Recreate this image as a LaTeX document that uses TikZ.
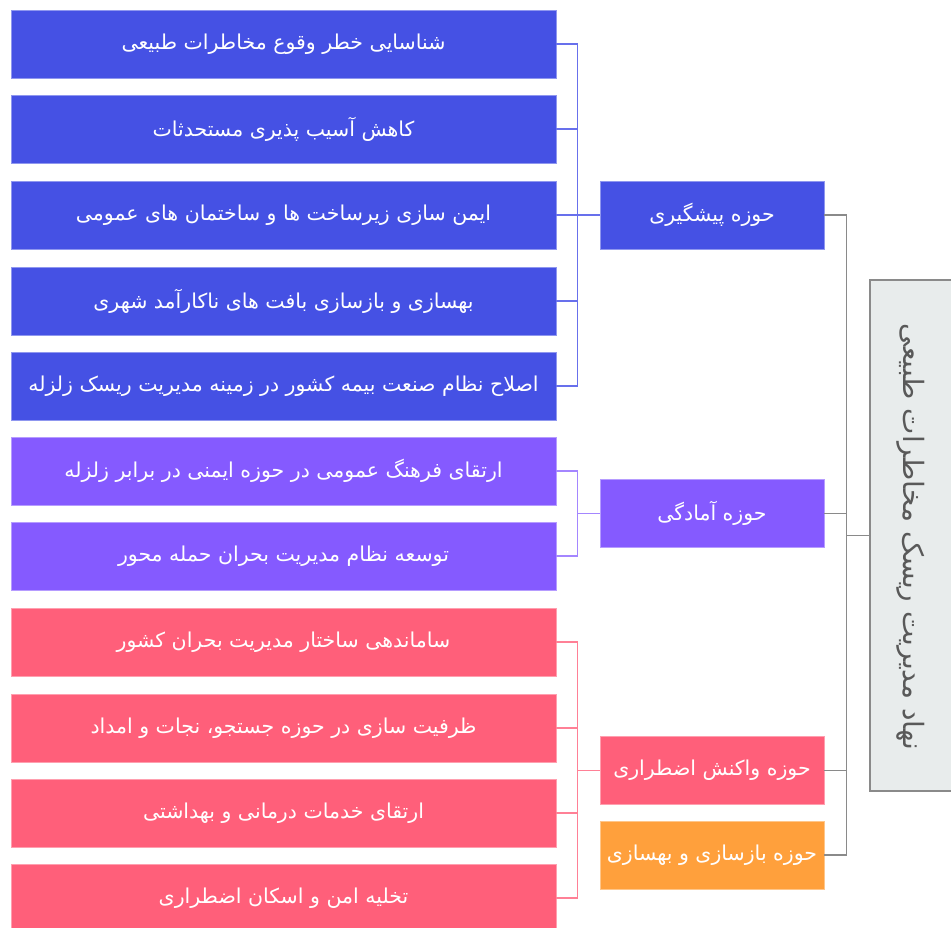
\documentclass[tikz,border=0pt]{standalone}
\usepackage{fontspec}
\newfontfamily\fa[Script=Arabic]{DejaVu Sans}
\TeXXeTstate=1
\definecolor{cblue}{HTML}{4551E4}
\definecolor{cpurple}{HTML}{855AFF}
\definecolor{cpink}{HTML}{FF5F7A}
\definecolor{corange}{HTML}{FFA03C}
\definecolor{croot}{HTML}{E8ECEC}
\definecolor{lblue}{HTML}{6870EC}
\definecolor{lpurple}{HTML}{A486FF}
\definecolor{lpink}{HTML}{FF8096}
\definecolor{lgray}{HTML}{8A8A8A}
\begin{document}
\begin{tikzpicture}[x=1pt,y=-1pt,
  box/.style={rectangle, minimum height=68pt, inner sep=0pt, text=white,
    font=\fa\fontsize{20.5}{24}\selectfont, line width=0.8pt},
  leaf/.style={box, minimum width=545pt},
  mid/.style={box, minimum width=224pt},
  bluebox/.style={fill=cblue, draw=cblue!60!white},
  purplebox/.style={fill=cpurple, draw=cpurple!60!white},
  pinkbox/.style={fill=cpink, draw=cpink!60!white},
  orangebox/.style={fill=corange, draw=corange!60!white},
  conn/.style={line width=1.3pt},
]
\useasboundingbox (0,0) rectangle (951,927);
\fill[white] (0,0) rectangle (951,927);

% root
\node[rectangle, fill=croot, draw=lgray, line width=1.3pt, minimum width=90pt, minimum height=511pt, inner sep=0pt] (root) at (915,535.5) {};
\node[rotate=-90, text=black!65, font=\fa\fontsize{28}{32}\selectfont] (roottxt) at (911,537) {\beginR نهاد مدیریت ریسک مخاطرات طبیعی\endR};

% middle
\node[mid, bluebox] (m1) at (712,215) {\beginR حوزه پیشگیری\endR};
\node[mid, purplebox] (m2) at (712,513.5) {\beginR حوزه آمادگی\endR};
\node[mid, pinkbox] (m3) at (712,770.5) {\beginR حوزه واکنش اضطراری\endR};
\node[mid, orangebox] (m4) at (712,855) {\beginR حوزه بازسازی و بهسازی\endR};

% leaves
\node[leaf, bluebox] (l1) at (283.5,44) {\beginR شناسایی خطر وقوع مخاطرات طبیعی\endR};
\node[leaf, bluebox] (l2) at (283.5,129) {\beginR کاهش آسیب پذیری مستحدثات\endR};
\node[leaf, bluebox] (l3) at (283.5,215) {\beginR ایمن سازی زیرساخت ها و ساختمان های عمومی\endR};
\node[leaf, bluebox] (l4) at (283.5,301) {\beginR بهسازی و بازسازی بافت های ناکارآمد شهری\endR};
\node[leaf, bluebox] (l5) at (283.5,386) {\beginR اصلاح نظام صنعت بیمه کشور در زمینه مدیریت ریسک زلزله\endR};
\node[leaf, purplebox] (l6) at (283.5,471) {\beginR ارتقای فرهنگ عمومی در حوزه ایمنی در برابر زلزله\endR};
\node[leaf, purplebox] (l7) at (283.5,556) {\beginR توسعه نظام مدیریت بحران حمله محور\endR};
\node[leaf, pinkbox] (l8) at (283.5,642) {\beginR ساماندهی ساختار مدیریت بحران کشور\endR};
\node[leaf, pinkbox] (l9) at (283.5,728) {\beginR ظرفیت سازی در حوزه جستجو، نجات و امداد\endR};
\node[leaf, pinkbox] (l10) at (283.5,813) {\beginR ارتقای خدمات درمانی و بهداشتی\endR};
\node[leaf, pinkbox] (l11) at (283.5,898) {\beginR تخلیه امن و اسکان اضطراری\endR};

% connectors
\foreach \l in {l1,l2,l3,l4,l5}
  \draw[conn, lblue] (m1.west) -- ++(-22,0) |- (\l.east);
\foreach \l in {l6,l7}
  \draw[conn, lpurple] (m2.west) -- ++(-22,0) |- (\l.east);
\foreach \l in {l8,l9,l10,l11}
  \draw[conn, lpink] (m3.west) -- ++(-22,0) |- (\l.east);
\foreach \m in {m1,m2,m3,m4}
  \draw[conn, lgray] (root.west) -- ++(-23,0) |- (\m.east);
\end{tikzpicture}
\end{document}
